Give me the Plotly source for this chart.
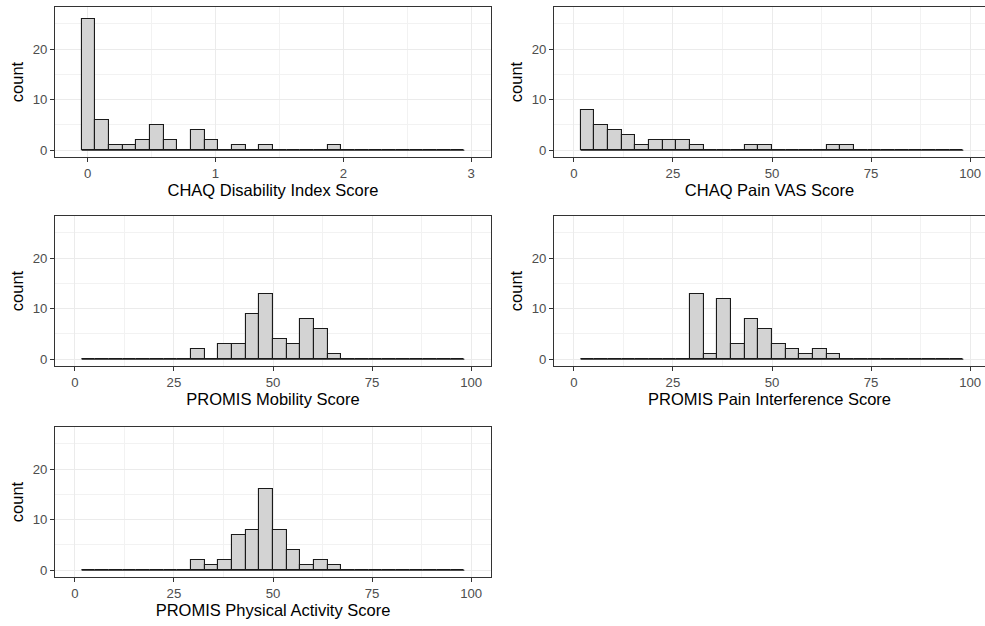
import plotly.graph_objects as go

# ---------------- data (counts per visible histogram bin, 30-bin ggplot layout) ----------------
titles = [
    "CHAQ Disability Index Score",
    "CHAQ Pain VAS Score",
    "PROMIS Mobility Score",
    "PROMIS Pain Interference Score",
    "PROMIS Physical Activity Score",
]
di_limits = (-0.1, 3.0)
score_limits = (0.0, 100.0)
n_bins = 30

chaq_di_counts = [26, 6, 1, 1, 2, 5, 2, 0, 4, 2, 0, 1, 0, 1, 0, 0, 0, 0, 1, 0, 0, 0, 0, 0, 0, 0, 0, 0]
chaq_vas_counts = [8, 5, 4, 3, 1, 2, 2, 2, 1, 0, 0, 0, 1, 1, 0, 0, 0, 0, 1, 1, 0, 0, 0, 0, 0, 0, 0, 0]
mobility_counts = [0, 0, 0, 0, 0, 0, 0, 0, 2, 0, 3, 3, 9, 13, 4, 3, 8, 6, 1, 0, 0, 0, 0, 0, 0, 0, 0, 0]
pain_int_counts = [0, 0, 0, 0, 0, 0, 0, 0, 13, 1, 12, 3, 8, 6, 3, 2, 1, 2, 1, 0, 0, 0, 0, 0, 0, 0, 0, 0]
phys_act_counts = [0, 0, 0, 0, 0, 0, 0, 0, 2, 1, 2, 7, 8, 16, 8, 4, 1, 2, 1, 0, 0, 0, 0, 0, 0, 0, 0, 0]

x_ticks_di = [0, 1, 2, 3]
x_ticks_score = [0, 25, 50, 75, 100]
y_ticks = [0, 10, 20]


def visible_bins(limits, nb):
    lo, hi = limits
    w = (hi - lo) / (nb - 1)
    bins = []
    for k in range(nb):
        left = lo - w / 2 + k * w
        right = left + w
        if left >= lo - 1e-9 and right <= hi + 1e-9:
            bins.append((left, right))
    return bins, w


panels = [
    (chaq_di_counts, di_limits, x_ticks_di),
    (chaq_vas_counts, score_limits, x_ticks_score),
    (mobility_counts, score_limits, x_ticks_score),
    (pain_int_counts, score_limits, x_ticks_score),
    (phys_act_counts, score_limits, x_ticks_score),
]

W, H = 985, 626
col_px = [(55, 491), (554, 985)]
row_px = [(7, 157), (216, 366), (427, 577)]
full_col_width = 436  # ggplot panel width in px (right column is clipped by the image edge)

fig = go.Figure()
layout = {}
for i, (counts, limits, xticks) in enumerate(panels):
    r, c = divmod(i, 2)
    ax = "" if i == 0 else str(i + 1)
    xa, ya = "x" + ax, "y" + ax
    bins, w = visible_bins(limits, n_bins)
    centers = [(a + b) / 2 for a, b in bins]
    # baseline of zero-height bins
    fig.add_trace(go.Scatter(
        x=[bins[0][0], bins[-1][1]], y=[0, 0], mode="lines",
        line=dict(color="#1a1a1a", width=1.1), xaxis=xa, yaxis=ya,
        showlegend=False, hoverinfo="skip"))
    fig.add_trace(go.Bar(
        x=centers, y=counts, width=w,
        marker=dict(color="#D3D3D3", line=dict(color="#1a1a1a", width=1.1)),
        xaxis=xa, yaxis=ya, showlegend=False))

    lo, hi = limits
    span = hi - lo
    x0 = lo - 0.05 * span
    x1 = hi + 0.05 * span
    px0, px1 = col_px[c]
    x1_vis = x0 + (x1 - x0) * (px1 - px0) / full_col_width
    py0, py1 = row_px[r]
    minor_step = xticks[1] - xticks[0]
    layout["xaxis" + ax] = dict(
        domain=[px0 / W, px1 / W], anchor=ya, range=[x0, x1_vis],
        tickvals=xticks, ticktext=[str(t) for t in xticks],
        ticks="outside", ticklen=4, tickwidth=1, tickcolor="#333333",
        tickfont=dict(family="Liberation Sans, Arial", size=13.2, color="#4D4D4D"),
        showline=True, linecolor="#333333", linewidth=1, mirror=True,
        showgrid=True, gridcolor="#EBEBEB", gridwidth=1, zeroline=False,
        minor=dict(dtick=minor_step / 2, tick0=xticks[0] + minor_step / 2,
                   showgrid=True, gridcolor="#F2F2F2", gridwidth=0.7, ticks=""),
        title=dict(text=titles[i], standoff=4,
                   font=dict(family="Liberation Sans, Arial", size=16.5, color="#000000")),
    )
    layout["yaxis" + ax] = dict(
        domain=[1 - py1 / H, 1 - py0 / H], anchor=xa, range=[-1.35, 28.35],
        tickvals=y_ticks, ticks="outside", ticklen=4, tickwidth=1, tickcolor="#333333",
        tickfont=dict(family="Liberation Sans, Arial", size=13.2, color="#4D4D4D"),
        showline=True, linecolor="#333333", linewidth=1, mirror=True,
        showgrid=True, gridcolor="#EBEBEB", gridwidth=1, zeroline=False,
        minor=dict(dtick=5, tick0=5, showgrid=True, gridcolor="#F2F2F2", gridwidth=0.7, ticks=""),
        title=dict(text="count", standoff=4,
                   font=dict(family="Liberation Sans, Arial", size=16.5, color="#000000")),
    )

fig.update_layout(
    width=W, height=H, margin=dict(l=0, r=0, t=0, b=0),
    paper_bgcolor="white", plot_bgcolor="white", bargap=0,
    **layout,
)
fig.write_html("out.html")
